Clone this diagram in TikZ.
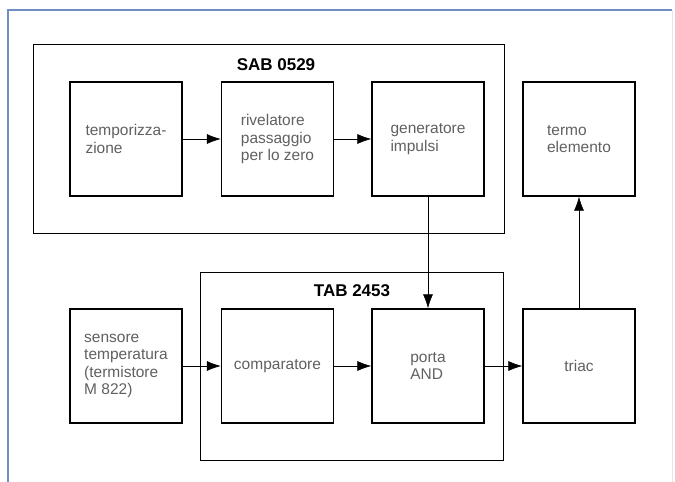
\documentclass[tikz,border=0pt]{standalone}
\usepackage{fontspec}
\setsansfont{Liberation Sans}
\usepackage{xcolor}
\usepackage{tikz}
\usetikzlibrary{arrows.meta}
\definecolor{framecol}{HTML}{6F8FC2}
\definecolor{textgray}{HTML}{606060}

\begin{document}
\begin{tikzpicture}[
		x=1pt,
		y=-1pt,
		font=\sffamily,
		block/.style={draw, line width=1.3pt, minimum width=112pt, minimum height=114pt, align=left, text=textgray, font=\sffamily\fontsize{15.5}{17.5}\selectfont},
		chip/.style={draw, line width=0.6pt},
		chiptitle/.style={font=\sffamily\bfseries\fontsize{17}{20}\selectfont},
		flow/.style={-{Latex[length=14pt,width=10pt]}, line width=0.7pt}
		]
		\useasboundingbox (0,0) rectangle (675,482);
		
		% Frame
		\draw[framecol, line width=1.6pt] (8,482) -- (8,10) -- (672,10);
		\draw[black!10, line width=1pt] (672,10) -- (672,482);
		
		% Integrated circuits
		\draw[chip] (33,44) rectangle (504,233);
		\draw[chip] (200,272) rectangle (503,460);
		\node[chiptitle] (sab) at (276,65) {SAB 0529};
		\node[chiptitle] (tab) at (352,291) {TAB 2453};
		
		% Blocks
		\node[block] (temp) at (126,139) {temporizza-\\zione};
		\node[block] (riv) at (277.5,139) {rivelatore\\passaggio\\per lo zero};
		\node[block] (gen) at (428,139) {generatore\\impulsi};
		\node[block] (termo) at (579,139) {termo\\elemento};
		\node[block] (sens) at (126,366) {sensore\\temperatura\\(termistore\\M 822)};
		\node[block] (comp) at (277.5,366) {comparatore};
		\node[block] (and) at (428,366) {porta\\AND};
		\node[block] (triac) at (579,366) {triac};
		
		% Connections
		\draw[flow] (temp) -- (riv);
		\draw[flow] (riv) -- (gen);
		\draw[flow] (gen) -- (and);
		\draw[flow] (sens) -- (comp);
		\draw[flow] (comp) -- (and);
		\draw[flow] (and) -- (triac);
		\draw[flow] (triac) -- (termo);
	\end{tikzpicture}
\end{document}
